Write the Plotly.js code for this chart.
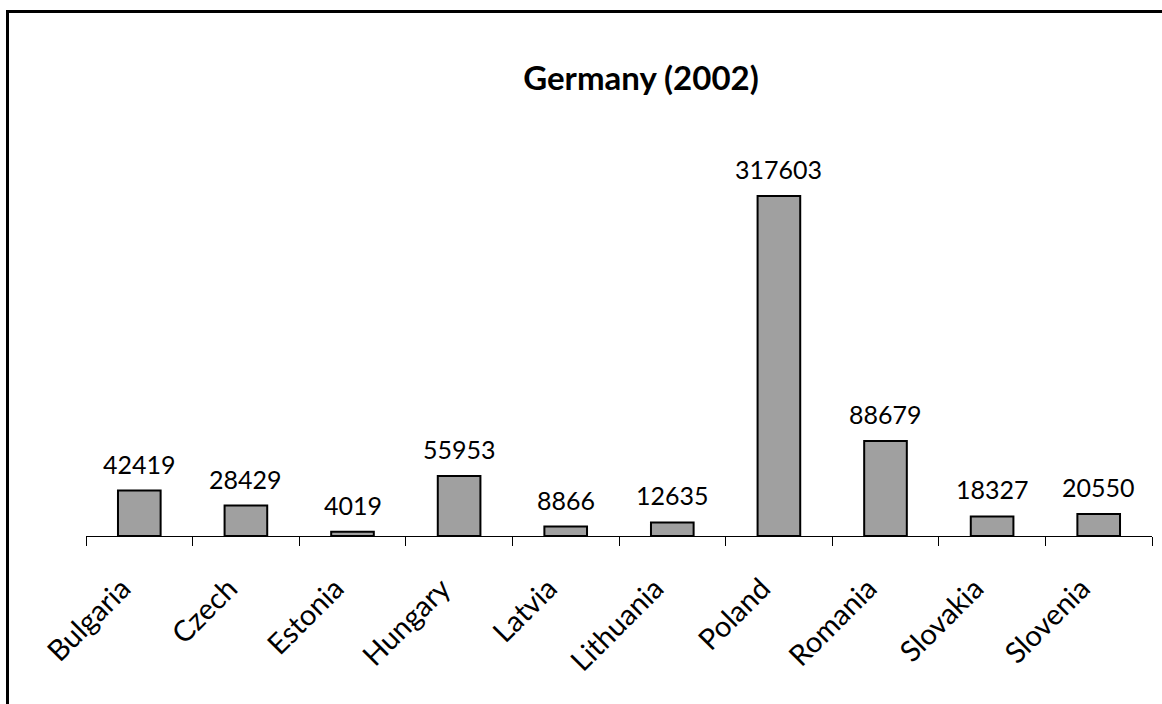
<!DOCTYPE html>
<html>
<head>
<meta charset="utf-8">
<script src="https://cdn.plot.ly/plotly-3.0.1.min.js"></script>
<style>
  html, body { margin: 0; padding: 0; background: #fff; }
  #wrap { position: relative; width: 1162px; height: 704px; overflow: hidden; }
  #chart { position: absolute; left: 0; top: 0; width: 1162px; height: 704px; }
  #frame { position: absolute; left: 6px; top: 10px; width: 1200px; height: 800px;
           border-left: 3px solid #000; border-top: 3px solid #000; pointer-events: none; }
</style>
</head>
<body>
<div id="wrap">
  <div id="chart"></div>
  <div id="frame"></div>
</div>
<script>
const titleText = "Germany (2002)";
const countries = ["Bulgaria", "Czech", "Estonia", "Hungary", "Latvia", "Lithuania", "Poland", "Romania", "Slovakia", "Slovenia"];
const values = [42419, 28429, 4019, 55953, 8866, 12635, 317603, 88679, 18327, 20550];

const FONT = "Lato, 'Open Sans', sans-serif";

const trace = {
  type: "bar",
  x: countries,
  y: values,
  marker: { color: "#a0a0a0", line: { color: "#000", width: 2 } },
  hoverinfo: "x+y"
};

const annotations = countries.map((c, i) => ({
  x: c, y: values[i], xref: "x", yref: "y",
  text: String(values[i]), showarrow: false,
  yanchor: "bottom", yshift: 10,
  font: { family: FONT, size: 25, color: "#000" }
}));

const layout = {
  width: 1162, height: 704,
  margin: { l: 86, r: 10, t: 161, b: 168 },
  paper_bgcolor: "#fff", plot_bgcolor: "#fff",
  showlegend: false,
  bargap: 0.6,
  title: {
    text: "<b>" + titleText + "</b>",
    x: 641 / 1162, xref: "container", xanchor: "center",
    y: 1 - 78 / 704, yref: "container", yanchor: "middle",
    font: { family: FONT, size: 33, color: "#000" }
  },
  xaxis: {
    type: "category",
    showline: true, linecolor: "#000", linewidth: 1,
    ticks: "outside", tickson: "boundaries", ticklen: 9, tickwidth: 1, tickcolor: "#000",
    tickangle: -45,
    ticklabelstandoff: 23, ticklabelshift: -17,
    tickfont: { family: FONT, size: 29, color: "#000" },
    showgrid: false, zeroline: false,
    fixedrange: true
  },
  yaxis: {
    range: [0, 350300],
    visible: false, showgrid: false, zeroline: false, fixedrange: true
  },
  annotations: annotations
};

Plotly.newPlot("chart", [trace], layout, { displayModeBar: false, staticPlot: true });
</script>
</body>
</html>
